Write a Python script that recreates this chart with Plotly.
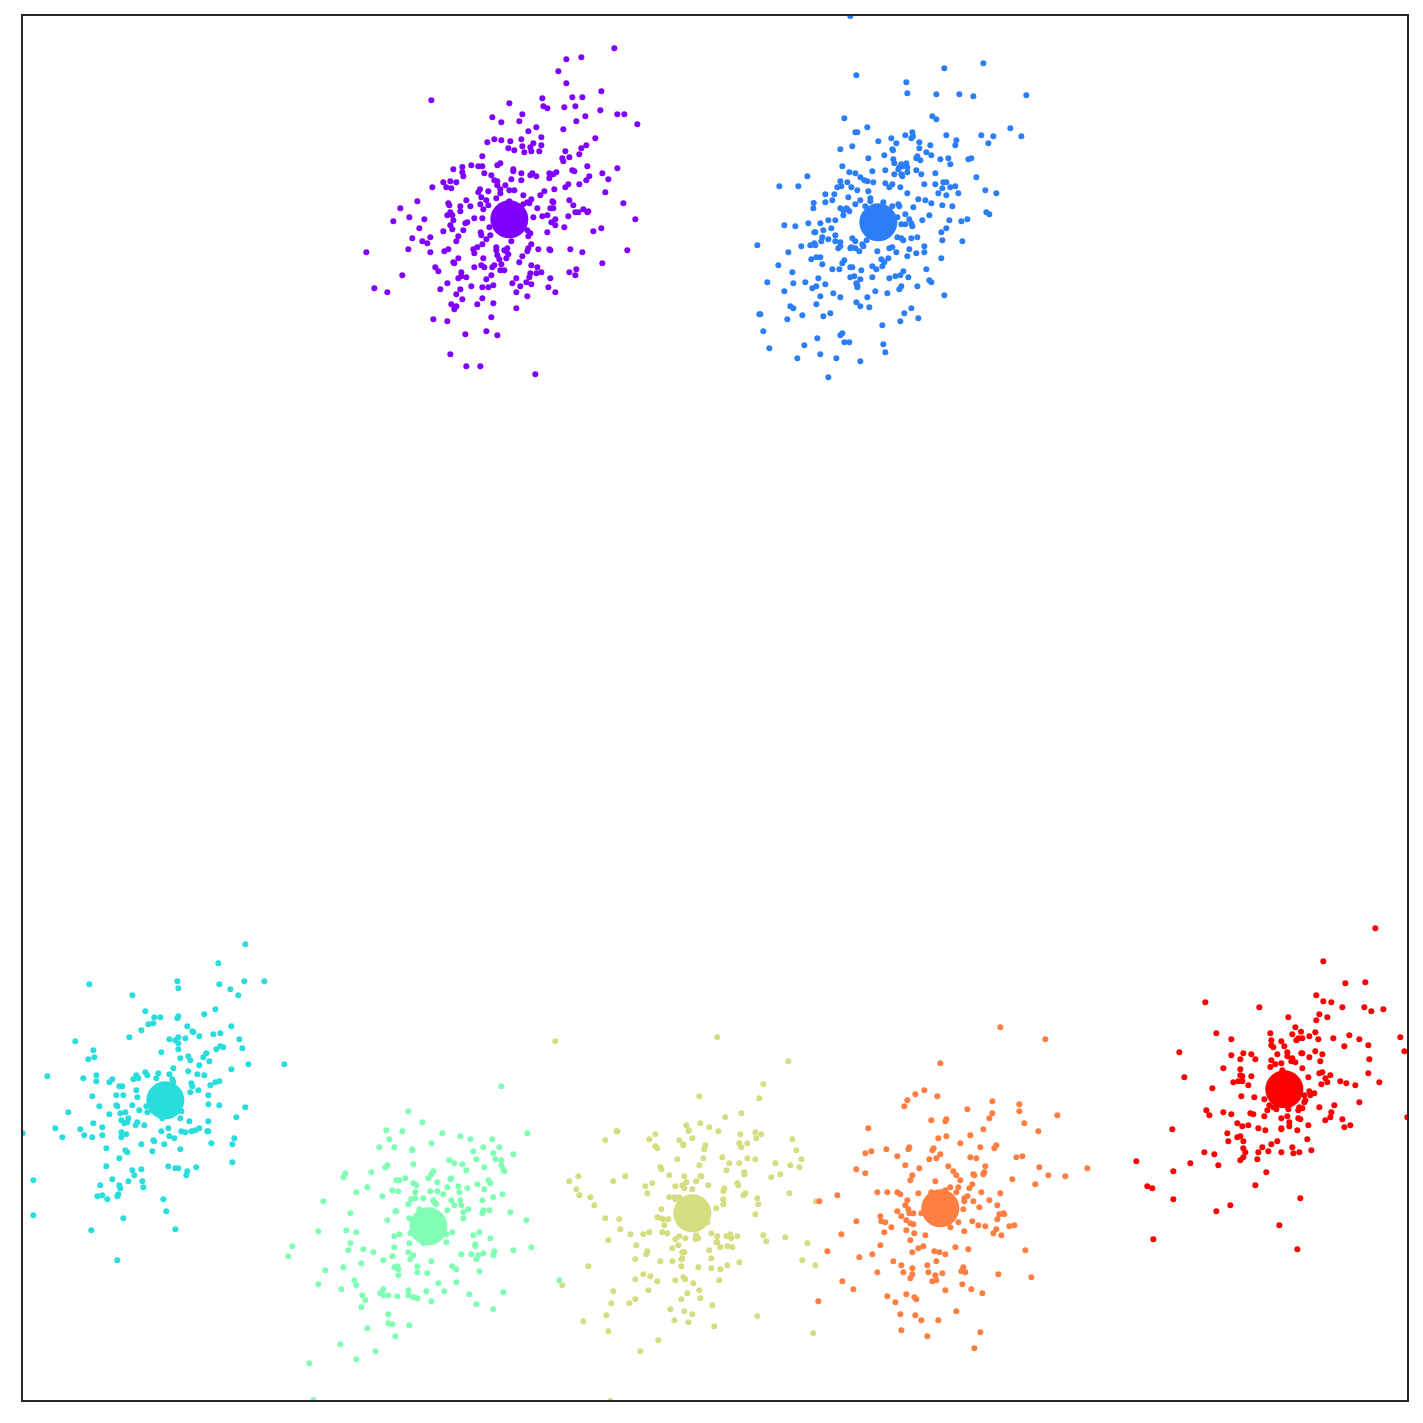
import plotly.graph_objects as go

# Readings per cluster, (x, y), in units of one third of a reference unit from each cluster's origin.
purple = [(793,55),(649,88),(694,82),(625,124),(649,160),(754,184),(244,211),(478,220),(577,205),(667,202),(697,202),(580,229),(592,235),(643,232),(676,229),(751,241),(517,253),(427,262),(454,277),(508,274),(679,274),(706,259),(802,253),(823,253),(862,283),(559,292),(535,304),(640,298),(574,322),(514,328),(433,328),(454,331),(412,337),(481,334),(736,325),(550,340),(574,346),(517,349),(541,352),(709,346),(694,355),(475,355),(493,361),(523,367),(544,364),(568,364),(646,364),(688,373),(397,379),(658,382),(637,385),(640,394),(451,400),(442,406),(364,406),(385,409),(397,409),(337,411),(310,418),(337,427),(340,439),(403,430),(424,436),(490,418),(490,424),(514,430),(541,436),(547,430),(559,439),(598,430),(610,433),(619,427),(598,445),(667,421),(673,424),(712,409),(802,415),(757,430),(718,439),(709,451),(775,448),(484,448),(514,451),(433,451),(442,454),(280,457),(301,454),(319,457),(289,472),(304,475),(247,472),(442,466),(466,466),(451,478),(390,478),(385,487),(415,484),(451,490),(478,481),(493,481),(655,463),(646,472),(688,463),(766,487),(613,478),(583,484),(571,496),(520,496),(394,502),(439,505),(349,511),(409,511),(544,508),(532,517),(538,520),(478,514),(520,523),(607,514),(610,517),(658,511),(202,514),(295,520),(298,526),(331,529),(361,529),(391,523),(415,526),(400,538),(670,526),(820,520),(151,535),(331,544),(301,547),(292,556),(307,556),(562,535),(601,535),(610,535),(700,538),(676,547),(685,547),(715,544),(712,547),(178,562),(223,568),(130,574),(310,571),(373,565),(397,565),(550,562),(577,559),(592,556),(655,559),(616,568),(604,577),(856,568),(346,580),(352,577),(301,586),(616,586),(643,592),(754,595),(208,595),(280,604),(307,598),(340,601),(418,592),(730,604),(592,607),(532,601),(541,610),(392,607),(394,616),(421,616),(535,619),(187,625),(241,622),(325,619),(217,634),(232,640),(319,634),(409,628),(484,634),(397,643),(544,643),(175,658),(241,667),(283,664),(295,658),(382,652),(370,658),(373,670),(439,652),(439,661),(463,661),(472,655),(469,664),(532,664),(535,655),(565,658),(598,658),(601,661),(661,658),(697,667),(832,661),(49,667),(475,673),(442,676),(517,679),(325,685),(400,685),(448,688),(469,685),(310,697),(313,700),(454,703),(508,697),(757,700),(256,712),(265,724),(373,712),(394,706),(403,712),(433,706),(427,712),(544,706),(562,712),(451,721),(463,721),(574,727),(559,730),(541,730),(679,718),(658,727),(676,736),(157,736),(334,727),(424,736),(325,745),(334,739),(349,742),(409,748),(499,745),(538,742),(601,745),(292,760),(487,760),(529,757),(544,763),(271,778),(331,778),(364,769),(397,772),(415,772),(430,766),(511,769),(595,772),(73,775),(112,787),(319,793),(499,787),(616,787),(337,808),(397,805),(532,799),(304,823),(430,820),(382,823),(319,829),(313,838),(499,835),(424,862),(250,868),(292,874),(346,913),(409,904),(442,916),(301,973),(349,1009),(391,1009),(556,1033)]
blue = [(331,18),(730,160),(613,175),(349,196),(499,217),(502,250),(589,253),(658,253),(700,259),(859,256),(577,319),(589,328),(313,325),(382,352),(346,367),(352,367),(811,355),(724,376),(760,379),(844,379),(619,376),(517,367),(496,376),(519,379),(514,385),(454,385),(415,394),(469,400),(538,397),(649,391),(646,406),(745,400),(571,406),(538,415),(457,418),(459,421),(337,409),(301,418),(559,427),(574,436),(433,436),(385,445),(532,439),(529,445),(541,451),(601,448),(625,445),(685,448),(694,445),(460,448),(463,460),(631,463),(307,469),(484,463),(499,460),(478,472),(490,469),(502,472),(475,478),(529,481),(397,484),(436,481),(328,487),(346,490),(463,493),(484,493),(487,499),(502,487),(544,493),(586,490),(202,499),(709,502),(361,502),(373,511),(382,514),(400,517),(301,514),(322,517),(436,520),(457,523),(448,532),(481,532),(553,523),(586,523),(610,517),(619,517),(646,529),(631,532),(607,535),(118,529),(175,529),(304,529),(292,532),(334,532),(352,541),(385,544),(736,541),(595,550),(619,556),(655,550),(769,550),(502,550),(256,553),(283,553),(325,562),(391,565),(391,574),(361,571),(535,568),(556,571),(574,580),(221,579),(256,577),(277,571),(346,583),(430,577),(376,589),(457,589),(475,583),(478,589),(607,586),(637,589),(220,595),(520,592),(301,595),(319,595),(310,601),(322,598),(328,604),(310,616),(739,607),(748,613),(496,613),(568,616),(472,622),(265,631),(286,631),(508,628),(547,631),(628,631),(664,634),(682,628),(205,640),(241,640),(133,646),(166,649),(484,643),(496,643),(514,640),(517,649),(274,655),(250,661),(619,655),(604,667),(223,667),(226,667),(286,676),(247,682),(244,694),(265,688),(337,685),(346,694),(472,682),(484,685),(490,691),(514,685),(532,682),(607,691),(667,694),(286,694),(301,697),(52,706),(184,709),(211,706),(223,700),(226,706),(301,709),(295,715),(331,715),(334,712),(346,715),(358,724),(367,703),(370,709),(380,691),(448,715),(457,712),(553,709),(508,718),(145,727),(412,724),(469,727),(529,730),(553,727),(214,748),(229,742),(241,742),(502,739),(424,748),(445,745),(604,745),(313,751),(307,760),(433,757),(247,763),(115,766),(397,769),(409,778),(427,769),(277,778),(298,778),(331,772),(337,772),(364,781),(559,778),(157,787),(490,784),(466,799),(481,796),(331,802),(343,799),(397,802),(448,805),(505,802),(235,805),(361,808),(82,817),(196,817),(160,820),(256,823),(349,820),(568,811),(574,817),(217,835),(229,829),(352,826),(352,832),(133,844),(406,844),(484,829),(478,838),(532,829),(280,850),(442,850),(241,859),(301,862),(382,862),(613,856),(349,877),(229,883),(361,889),(388,892),(151,889),(160,895),(514,895),(58,913),(61,913),(187,916),(271,910),(250,919),(493,910),(142,928),(481,934),(535,925),(427,946),(70,964),(307,970),(301,976),(232,985),(313,997),(328,997),(430,1003),(193,1006),(88,1015),(436,1027),(241,1033),(172,1045),(289,1045),(361,1054),(265,1102)]
cyan = [(691,43),(610,100),(223,163),(487,154),(490,175),(613,163),(688,154),(748,154),(646,178),(670,196),(352,196),(391,244),(601,238),(568,253),(418,262),(436,262),(490,259),(487,265),(415,280),(400,283),(379,301),(517,289),(649,289),(532,304),(535,307),(553,319),(595,313),(616,310),(343,322),(463,328),(490,322),(481,331),(511,325),(490,340),(673,328),(181,334),(235,361),(490,358),(604,358),(616,349),(625,352),(682,355),(439,367),(574,370),(565,382),(520,379),(526,391),(496,385),(583,394),(238,382),(220,388),(700,403),(808,403),(553,406),(475,415),(649,418),(520,424),(391,427),(397,436),(430,430),(463,433),(547,433),(568,436),(244,436),(364,436),(97,439),(205,445),(355,448),(370,445),(424,445),(472,448),(292,448),(244,454),(283,457),(475,457),(529,460),(532,469),(586,466),(601,457),(613,454),(313,469),(322,469),(364,481),(550,481),(526,487),(304,496),(325,496),(232,499),(367,502),(580,496),(253,529),(304,526),(307,529),(352,526),(580,523),(613,526),(691,532),(394,529),(373,541),(397,547),(499,544),(160,547),(283,553),(316,550),(331,547),(664,562),(442,565),(496,565),(340,565),(319,571),(328,580),(337,577),(367,577),(362,586),(388,586),(235,580),(523,574),(580,574),(262,592),(121,595),(196,598),(460,595),(439,604),(499,604),(511,607),(529,604),(541,601),(553,595),(577,604),(580,604),(319,607),(334,613),(23,610),(208,616),(262,616),(142,622),(232,622),(319,622),(463,619),(478,625),(658,625),(415,631),(418,634),(379,643),(448,643),(589,640),(652,643),(274,655),(496,658),(331,661),(337,667),(412,664),(313,685),(652,697),(274,709),(460,709),(481,715),(490,715),(544,712),(517,724),(514,736),(352,721),(379,718),(358,736),(292,748),(340,754),(382,754),(55,751),(256,766),(313,766),(316,775),(385,772),(247,799),(262,796),(310,793),(307,799),(277,808),(445,808),(454,844),(55,856),(325,865),(229,901),(481,898),(307,991)]
mint = [(838,631),(664,49),(385,124),(427,157),(319,181),(367,184),(487,190),(742,190),(541,199),(571,208),(328,208),(637,208),(454,220),(298,232),(343,232),(397,238),(397,241),(580,244),(610,232),(658,232),(640,250),(700,253),(508,271),(523,280),(589,268),(646,268),(664,271),(664,286),(547,283),(400,283),(322,286),(316,292),(613,292),(670,298),(673,304),(559,301),(196,310),(190,322),(274,307),(460,304),(454,313),(445,325),(376,325),(349,331),(358,331),(514,325),(511,328),(472,337),(625,331),(631,340),(400,340),(409,346),(592,343),(262,352),(535,349),(502,352),(562,355),(613,358),(337,361),(355,364),(229,367),(451,364),(472,364),(538,367),(406,367),(490,373),(667,373),(307,379),(640,382),(406,385),(394,388),(430,385),(130,394),(460,391),(463,397),(514,391),(541,391),(607,391),(385,403),(469,403),(523,406),(544,406),(418,418),(502,421),(565,418),(610,421),(628,421),(607,430),(346,424),(349,424),(211,430),(550,427),(691,427),(388,445),(550,445),(322,451),(739,451),(115,484),(199,481),(229,487),(598,487),(517,487),(391,490),(343,499),(358,493),(499,493),(580,496),(631,505),(211,520),(388,520),(499,517),(430,520),(586,523),(586,529),(37,529),(205,541),(250,538),(343,532),(700,541),(754,532),(643,544),(280,547),(385,547),(544,553),(574,553),(595,556),(610,550),(640,556),(25,559),(337,559),(400,556),(391,568),(589,568),(310,571),(454,574),(244,580),(190,592),(343,592),(352,589),(355,598),(412,589),(517,589),(529,598),(136,601),(412,607),(442,610),(598,604),(355,616),(223,631),(475,640),(529,637),(115,643),(229,646),(184,658),(310,658),(385,661),(439,664),(493,664),(670,667),(301,670),(310,676),(325,676),(352,679),(385,676),(247,676),(568,673),(400,682),(412,685),(256,691),(454,694),(589,703),(244,712),(640,718),(325,733),(325,760),(337,763),(388,766),(262,775),(346,799),(181,823),(286,844),(229,868),(88,880),(100,990)]
yellow = [(517,22),(31,34),(730,94),(655,163),(463,199),(643,205),(589,250),(541,262),(466,280),(424,286),(493,292),(432,301),(430,303),(520,304),(214,304),(217,304),(331,313),(586,313),(631,307),(649,313),(313,328),(181,331),(403,331),(442,325),(634,325),(742,328),(415,343),(415,346),(583,340),(607,340),(589,352),(481,346),(478,358),(331,349),(337,355),(754,361),(397,388),(475,385),(532,382),(607,385),(631,388),(769,388),(553,400),(583,400),(691,400),(463,406),(736,406),(763,412),(346,412),(349,418),(544,421),(598,427),(598,433),(706,433),(679,442),(373,436),(418,439),(466,439),(469,439),(100,439),(241,439),(73,454),(205,454),(424,457),(454,454),(322,460),(301,469),(391,469),(412,466),(490,466),(577,460),(580,466),(418,475),(442,478),(538,475),(535,484),(94,478),(307,490),(103,496),(601,490),(595,496),(733,490),(136,502),(373,502),(388,502),(403,502),(391,508),(637,505),(535,508),(148,526),(535,523),(640,523),(813,514),(349,538),(514,535),(631,553),(337,562),(349,565),(355,568),(370,568),(181,565),(223,568),(358,586),(487,577),(226,598),(256,613),(295,613),(313,607),(352,607),(367,610),(499,610),(403,619),(454,616),(517,619),(544,619),(556,613),(559,625),(577,619),(655,616),(721,622),(391,628),(421,625),(451,628),(460,625),(190,631),(664,634),(787,640),(514,637),(517,637),(400,646),(274,646),(526,652),(547,649),(562,652),(382,655),(493,661),(307,664),(304,673),(412,667),(418,667),(412,685),(409,688),(271,688),(499,685),(346,694),(382,694),(583,697),(772,691),(130,709),(409,709),(460,712),(499,715),(526,718),(547,706),(811,706),(295,733),(316,739),(415,742),(421,748),(271,748),(337,754),(391,751),(523,751),(52,766),(445,760),(310,781),(205,784),(463,781),(427,790),(466,805),(271,808),(409,808),(199,820),(253,820),(502,826),(376,838),(418,844),(442,853),(184,856),(637,859),(115,874),(388,871),(430,877),(508,889),(190,904),(805,910),(340,931),(286,964),(196,1112)]
orange = [(601,22),(736,58),(421,130),(373,211),(346,223),(322,241),(412,229),(577,244),(658,253),(313,259),(502,268),(658,274),(577,280),(772,286),(568,295),(394,301),(439,298),(436,304),(673,310),(205,325),(550,328),(715,334),(511,346),(439,349),(415,355),(481,370),(589,376),(583,385),(541,382),(328,382),(325,388),(401,385),(397,391),(259,388),(214,394),(196,400),(421,403),(292,409),(409,415),(388,418),(511,412),(529,415),(649,412),(667,409),(316,436),(445,439),(556,439),(718,442),(862,445),(169,448),(358,445),(460,454),(196,460),(337,466),(469,466),(520,463),(523,466),(553,457),(550,463),(745,466),(796,469),(331,481),(481,481),(637,478),(406,484),(517,493),(706,493),(451,502),(475,502),(508,505),(232,517),(262,517),(292,517),(301,523),(355,520),(544,517),(601,520),(112,526),(394,517),(436,511),(469,517),(502,529),(493,535),(493,544),(322,541),(520,544),(568,541),(58,544),(316,556),(592,556),(538,562),(325,568),(490,568),(292,574),(328,580),(340,580),(364,580),(598,583),(610,580),(613,583),(241,589),(304,589),(592,598),(244,604),(256,607),(319,601),(331,610),(340,613),(475,607),(517,604),(535,616),(556,619),(628,619),(643,616),(169,604),(274,622),(451,622),(319,631),(589,628),(493,634),(253,637),(343,640),(580,640),(604,646),(376,646),(124,643),(331,661),(241,676),(370,679),(355,685),(466,682),(505,688),(676,691),(82,694),(337,697),(403,694),(418,697),(436,703),(217,703),(178,712),(280,724),(409,724),(304,736),(382,736),(337,745),(490,742),(232,757),(310,757),(385,757),(427,760),(484,754),(496,757),(337,763),(406,766),(595,763),(331,775),(694,772),(127,784),(397,784),(409,781),(487,793),(160,808),(436,811),(514,808),(547,820),(262,829),(319,823),(343,832),(349,838),(55,844),(286,847),(301,883),(346,886),(469,874),(364,901),(415,901),(304,931),(541,937),(382,949),(523,985)]
red = [(751,25),(595,124),(661,190),(721,187),(574,226),(241,247),(595,244),(619,247),(403,262),(652,262),(718,262),(739,274),(775,268),(583,283),(490,292),(607,292),(574,301),(511,322),(436,340),(274,340),(502,343),(528,335),(571,337),(553,349),(319,358),(439,361),(514,361),(520,355),(532,355),(580,358),(625,355),(673,346),(703,358),(826,352),(469,364),(439,376),(445,382),(478,379),(658,379),(730,376),(163,397),(487,397),(529,400),(532,400),(571,394),(592,403),(838,394),(319,406),(355,400),(379,403),(457,403),(487,409),(346,418),(391,418),(439,421),(502,415),(499,424),(511,427),(553,412),(586,424),(733,418),(469,430),(451,433),(436,441),(295,445),(346,448),(532,445),(472,451),(583,460),(592,457),(730,460),(346,466),(352,469),(379,469),(178,472),(550,472),(601,475),(616,466),(340,484),(352,484),(325,487),(607,487),(589,493),(646,484),(664,490),(691,496),(763,487),(370,496),(262,505),(553,514),(568,520),(538,526),(556,526),(349,529),(388,532),(418,538),(541,541),(703,547),(538,547),(433,556),(445,562),(454,568),(490,568),(520,571),(532,565),(523,562),(583,562),(628,556),(427,571),(244,571),(253,586),(295,577),(319,583),(376,580),(385,583),(418,589),(487,589),(619,577),(616,592),(469,595),(520,595),(526,598),(601,601),(652,598),(847,592),(337,610),(352,619),(370,616),(493,607),(493,619),(550,616),(658,622),(676,616),(142,628),(400,625),(421,631),(469,625),(469,628),(517,631),(307,640),(337,652),(346,649),(547,658),(310,664),(355,664),(457,664),(439,673),(412,682),(355,685),(502,682),(238,697),(361,697),(400,697),(430,694),(469,697),(505,700),(523,697),(559,691),(268,703),(355,712),(346,721),(397,718),(34,724),(196,730),(280,736),(145,754),(424,757),(391,796),(67,799),(82,805),(526,835),(145,838),(316,856),(274,874),(463,916),(85,958),(517,988)]

cluster_points = [purple, blue, cyan, mint, yellow, orange, red]
cluster_origins = [(350,30),(740,10),(15,930),(280,1070),(545,1030),(800,1020),(1125,920)]
cluster_centers = [(478,568),(415,637),(451,511),(445,469),(442,550),(421,565),(478,508)]
cluster_colors = ["#8000ff","#2c7ef7","#2adddd","#80ffb4","#d4dd80","#ff7e41","#ff0000"]

fig = go.Figure()
for pts, org, ctr, col in zip(cluster_points, cluster_origins, cluster_centers, cluster_colors):
    xs = [org[0] + p[0] / 3 for p in pts]
    ys = [org[1] + p[1] / 3 for p in pts]
    fig.add_trace(go.Scatter(x=xs, y=ys, mode="markers", showlegend=False,
                             marker=dict(size=6, color=col, line=dict(width=0))))
for org, ctr, col in zip(cluster_origins, cluster_centers, cluster_colors):
    fig.add_trace(go.Scatter(x=[org[0] + ctr[0] / 3], y=[org[1] + ctr[1] / 3], mode="markers", showlegend=False,
                             marker=dict(size=38, color=col, line=dict(width=0))))

axis = dict(showgrid=False, zeroline=False, showticklabels=False, ticks="",
            showline=True, mirror=True, linecolor="#262626", linewidth=2)
fig.update_xaxes(range=[23, 1407], **axis)
fig.update_yaxes(range=[1400, 16], **axis)
fig.update_layout(width=1407, height=1407, plot_bgcolor="white", paper_bgcolor="white",
                  margin=dict(l=15, r=6, t=6, b=15, pad=0), showlegend=False)
fig.write_html("out.html")
